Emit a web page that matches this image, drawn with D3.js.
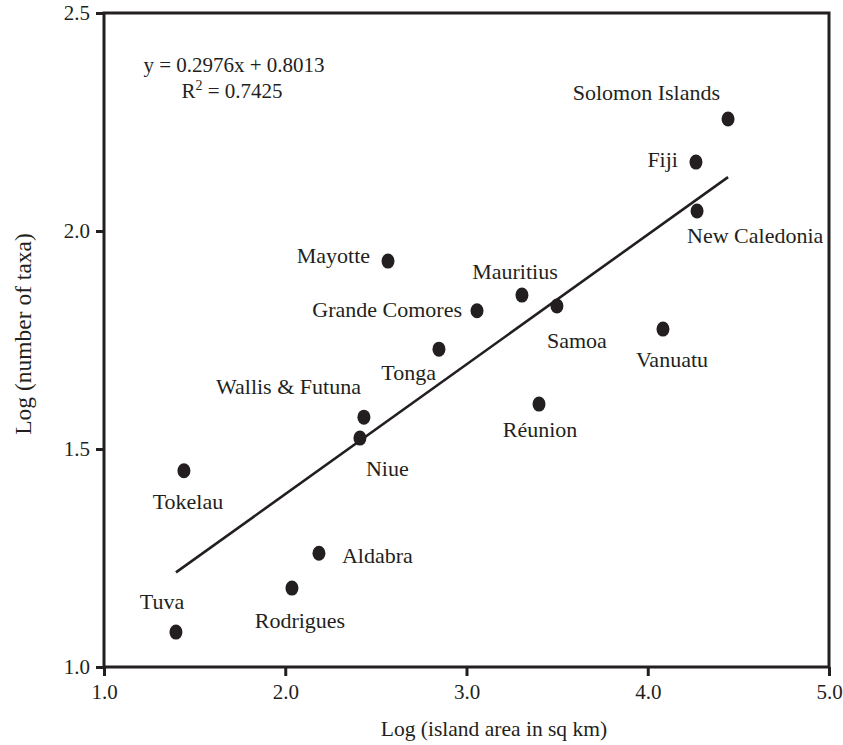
<!DOCTYPE html>
<html>
<head>
<meta charset="utf-8">
<script src="https://cdn.jsdelivr.net/npm/d3@7"></script>
<style>
  body { margin: 0; background: #fff; }
  svg text { font-family: "Liberation Serif", "DejaVu Serif", serif; fill: #231f20; }
</style>
</head>
<body>
<script>
// island data: log area vs log number of taxa
let islands = ["Solomon Islands", "Fiji", "New Caledonia", "Mayotte", "Mauritius", "Grande Comores",
               "Samoa", "Vanuatu", "Tonga", "Réunion", "Wallis & Futuna", "Niue", "Tokelau",
               "Aldabra", "Rodrigues", "Tuva"]
let logArea = [4.443, 4.266, 4.272, 2.567, 3.306, 3.058, 3.499, 4.084, 2.848, 3.400, 2.434, 2.412,
               1.441, 2.186, 2.037, 1.397]
let logTaxa = [2.257, 2.158, 2.046, 1.931, 1.853, 1.817, 1.828, 1.775, 1.729, 1.603, 1.573, 1.525,
               1.450, 1.261, 1.181, 1.080]

let xTicks = [1, 2, 3, 4, 5]
let yTicks = [1, 1.5, 2, 2.5]

let slope = 0.2976
let intercept = 0.8013
let rSquared = 0.7425

// where each label sits relative to its dot: [anchor, dx, dy]
let labelPlace = [
    ["end", -8, -19], ["end", -18, 5], ["start", -10, 32], ["end", -18, 2],
    ["middle", -7, -16], ["end", -15, 6], ["start", -10, 42], ["middle", 9, 38],
    ["end", -3, 31], ["middle", 1, 33], ["end", -3, -23], ["start", 6, 38],
    ["middle", 4, 38], ["start", 23, 10], ["middle", 8, 40], ["middle", -14, -23]
]

let W = 843, H = 745
let pLeft = 104, pTop = 13, pRight = 829, pBottom = 667
let ink = "#231f20"

let data = islands.map((d, i) => ({name: d, x: logArea[i], y: logTaxa[i], place: labelPlace[i]}))

let svg = d3.select("body").append("svg")
            .attr("width", W)
            .attr("height", H)

let x = d3.scaleLinear().domain([1, 5]).range([pLeft, pRight])
let y = d3.scaleLinear().domain([1, 2.5]).range([pBottom, pTop])

let xAxis = svg.append("g")
            .attr("transform", "translate(0," + pBottom + ")")
            .call(d3.axisBottom(x).tickValues(xTicks).tickFormat(d3.format(".1f"))
                    .tickSize(9).tickSizeOuter(0).tickPadding(8))

let yAxis = svg.append("g")
            .attr("transform", "translate(" + pLeft + ",0)")
            .call(d3.axisLeft(y).tickValues(yTicks).tickFormat(d3.format(".1f"))
                    .tickSize(8).tickSizeOuter(0).tickPadding(6))

svg.selectAll(".domain").remove()
svg.selectAll(".tick line").attr("stroke", ink).attr("stroke-width", 3)
svg.selectAll(".tick text").attr("font-size", 21).attr("font-family", null).attr("fill", ink)

// frame
svg.append("rect")
    .attr("x", pLeft)
    .attr("y", pTop)
    .attr("width", pRight - pLeft)
    .attr("height", pBottom - pTop)
    .attr("fill", "none")
    .attr("stroke", ink)
    .attr("stroke-width", 3)

// trend line across the data range
let xr = d3.extent(logArea)
svg.append("line")
    .attr("x1", x(xr[0]))
    .attr("y1", y(slope * xr[0] + intercept))
    .attr("x2", x(xr[1]))
    .attr("y2", y(slope * xr[1] + intercept))
    .attr("stroke", ink)
    .attr("stroke-width", 2.6)

svg.selectAll(".dot")
    .data(data)
    .enter()
    .append("ellipse")
    .attr("class", "dot")
    .attr("cx", d => x(d.x))
    .attr("cy", d => y(d.y))
    .attr("rx", 6.5)
    .attr("ry", 7.5)
    .attr("fill", ink)

svg.selectAll(".lab")
    .data(data)
    .enter()
    .append("text")
    .attr("class", "lab")
    .attr("x", d => x(d.x) + d.place[1])
    .attr("y", d => y(d.y) + d.place[2])
    .attr("text-anchor", d => d.place[0])
    .attr("font-size", 22)
    .text(d => d.name)

// equation
svg.append("text")
    .attr("x", 234)
    .attr("y", 72)
    .attr("text-anchor", "middle")
    .attr("font-size", 21)
    .text("y = " + slope + "x + " + intercept)

let r2 = svg.append("text")
    .attr("x", 232)
    .attr("y", 98)
    .attr("text-anchor", "middle")
    .attr("font-size", 21)
r2.append("tspan").text("R")
r2.append("tspan").attr("font-size", 14).attr("dy", -8).text("2")
r2.append("tspan").attr("dy", 8).text(" = " + rSquared)

// axis titles
svg.append("text")
    .attr("x", 494)
    .attr("y", 736)
    .attr("text-anchor", "middle")
    .attr("font-size", 21.5)
    .text("Log (island area in sq km)")

svg.append("text")
    .attr("transform", "translate(31," + 334 + ") rotate(-90)")
    .attr("text-anchor", "middle")
    .attr("font-size", 23.5)
    .text("Log (number of taxa)")
</script>
</body>
</html>
